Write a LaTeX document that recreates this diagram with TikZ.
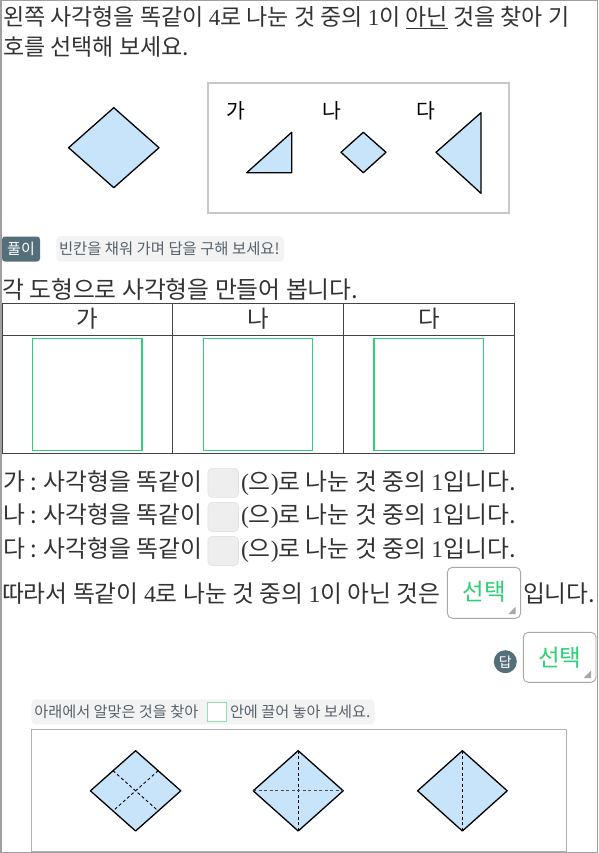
\documentclass[tikz,border=0pt]{standalone}
\usepackage{fontspec}
\setmainfont{Noto Sans CJK KR}
\newfontfamily\lser{Liberation Serif}
\definecolor{txt}{HTML}{333333}
\definecolor{shp}{RGB}{200,228,250}
\definecolor{badge}{HTML}{546E7A}
\definecolor{hintbg}{HTML}{F3F3F3}
\definecolor{hinttx}{HTML}{56626B}
\definecolor{grn}{RGB}{46,208,118}
\definecolor{lgrn}{RGB}{140,226,178}
\definecolor{framec}{HTML}{A0A0A0}
\definecolor{boxc}{HTML}{C8C8C8}
\definecolor{bigboxc}{HTML}{B0B0B0}
\definecolor{tblc}{HTML}{444444}
\definecolor{blankbg}{HTML}{EEEEEE}
\definecolor{blankbd}{HTML}{E2E2E2}
\definecolor{selbd}{HTML}{A8A8A8}
\newcommand\fsz[1]{\fontsize{#1}{#1}\selectfont}
\newcommand\dg[1]{{\lser #1}}
\begin{document}
\begin{tikzpicture}[x=1pt,y=-1pt,
  every node/.style={inner sep=0pt, outer sep=0pt},
  txtl/.style={anchor=base west, text=txt, font=\fsz{23.8}},
  lbl/.style={anchor=base, text=black, font=\fsz{20.5}},
  hdr/.style={anchor=base, text=txt, font=\fsz{23.5}},
  shp/.style={draw=black, fill=shp, line width=1.3pt, line join=round},
  dsh/.style={draw=black, line width=0.9pt, dash pattern=on 3pt off 2.5pt},
  gbox/.style={draw=grn, line width=1.2pt},
  blank/.style={fill=blankbg, draw=blankbd, line width=0.6pt, rounded corners=4pt, minimum width=30.5pt, minimum height=29pt},
  selbox/.style={draw=selbd, fill=white, line width=0.9pt, rounded corners=5pt},
  seltxt/.style={text=grn, font=\fsz{23.5}},
  hinttext/.style={anchor=base west, text=hinttx, font=\fsz{15.4}},
]
\path[use as bounding box] (0,0) rectangle (598,853);
\draw[framec, line width=1.5pt] (0.75,0.75) rectangle (597.25,852.25);

% question
\node[txtl, font=\fsz{23.0}] (q1) at (3,25.5) {왼쪽 사각형을 똑같이 \dg{4}로 나눈 것 중의 \dg{1}이 \underline{아닌} 것을 찾아 기};
\node[txtl, font=\fsz{23.0}] (q2) at (3,56) {호를 선택해 보세요.};

% left diamond
\draw[shp] (68.6,147.7) -- (113.8,107.7) -- (159,147.7) -- (113.8,187.7) -- cycle;

% options box
\draw[boxc, line width=2pt] (208.3,82.7) rectangle (509,212.7);
\node[lbl] (la) at (236,119) {가};
\node[lbl] (lb) at (332,119) {나};
\node[lbl] (lc) at (426,119) {다};
\draw[shp] (246.7,172.7) -- (291.7,132.3) -- (291.7,172.7) -- cycle;
\draw[shp] (341,152.3) -- (363.3,132.3) -- (386,152.3) -- (363.3,172.7) -- cycle;
\draw[shp] (481,112.7) -- (436,152.3) -- (481,193.3) -- cycle;

% badge and hint
\node[fill=badge, rounded corners=3pt, minimum width=38pt, minimum height=25pt, text=white, font=\fsz{15}] (bd) at (21,249) {풀이};
\fill[hintbg, rounded corners=4pt] (56.4,236) rectangle (284,261.7);
\node[hinttext] (h1) at (59,254.5) {빈칸을 채워 가며 답을 구해 보세요!};

\node[txtl] (s1) at (2,298) {각 도형으로 사각형을 만들어 봅니다.};

% table
\draw[tblc, line width=0.9pt] (2,303.3) rectangle (514.5,453.3);
\draw[tblc, line width=0.9pt] (2,335.3) -- (514.5,335.3);
\draw[tblc, line width=0.9pt] (172.4,303.3) -- (172.4,453.3);
\draw[tblc, line width=0.9pt] (343.3,303.3) -- (343.3,453.3);
\node[hdr] (ta) at (87.2,327.5) {가};
\node[hdr] (tb) at (257.9,327.5) {나};
\node[hdr] (tc) at (428.9,327.5) {다};
\draw[gbox] (32.4,338.3) rectangle (141.9,450.3);
\draw[gbox] (203.3,338.3) rectangle (312.7,450.3);
\draw[gbox] (374,338.3) rectangle (483.6,450.3);

% fill-in lines
\node[txtl] (r1) at (3,490) {가 : 사각형을 똑같이};
\node[blank] (b1) at (223.2,482.8) {};
\node[txtl] (r1b) at (241,490) {\dg{(}으\dg{)}로 나눈 것 중의 \dg{1}입니다.};
\node[txtl] (r2) at (3,523.5) {나 : 사각형을 똑같이};
\node[blank] (b2) at (223.2,517) {};
\node[txtl] (r2b) at (241,523.5) {\dg{(}으\dg{)}로 나눈 것 중의 \dg{1}입니다.};
\node[txtl] (r3) at (3,557) {다 : 사각형을 똑같이};
\node[blank] (b3) at (223.2,551) {};
\node[txtl] (r3b) at (241,557) {\dg{(}으\dg{)}로 나눈 것 중의 \dg{1}입니다.};

\node[txtl] (r4) at (2,602) {따라서 똑같이 \dg{4}로 나눈 것 중의 \dg{1}이 아닌 것은};
\draw[selbox] (447.4,567.3) rectangle (520.6,618.3);
\node[seltxt] (sel1) at (484,591.5) {선택};
\fill[selbd] (515.6,606.7) -- (515.6,614) -- (508.3,614) -- cycle;
\node[txtl] (r4b) at (523,602) {입니다.};

% answer
\node[circle, fill=badge, minimum size=23pt, text=white, font=\fsz{14}] (ans) at (505.3,661.7) {답};
\draw[selbox] (523.3,632.3) rectangle (596,682.3);
\node[seltxt] (sel2) at (559.7,658) {선택};
\fill[selbd] (591,670.5) -- (591,678) -- (583.5,678) -- cycle;

% bottom hint
\fill[hintbg, rounded corners=4pt] (31.3,699.3) rectangle (374.5,724.3);
\node[hinttext, font=\fsz{15.2}] (h2a) at (34.3,717) {아래에서 알맞은 것을 찾아};
\draw[lgrn, fill=white, line width=1pt] (207,702.7) rectangle (226,721);
\node[hinttext, font=\fsz{15.2}] (h2b) at (230,717) {안에 끌어 놓아 보세요.};

% choices box
\draw[bigboxc, line width=1.2pt] (31.3,729.3) rectangle (566.4,851.7);
% diamond 1
\draw[shp] (90.4,790.8) -- (135.6,750.7) -- (180.8,790.8) -- (135.6,831) -- cycle;
\draw[dsh] (113,770.7) -- (158.2,810.9);
\draw[dsh] (158.2,770.7) -- (113,810.9);
% diamond 2
\draw[shp] (253.2,790.8) -- (298.2,750.7) -- (343.2,790.8) -- (298.2,831) -- cycle;
\draw[dsh] (298.2,750.7) -- (298.2,831);
\draw[dsh, draw=black!70, line width=1.3pt] (253.2,790.8) -- (343.2,790.8);
% diamond 3
\draw[shp] (417.6,790.8) -- (462.4,750.7) -- (507.2,790.8) -- (462.4,831) -- cycle;
\draw[dsh] (462.4,750.7) -- (462.4,831);
\end{tikzpicture}
\end{document}
